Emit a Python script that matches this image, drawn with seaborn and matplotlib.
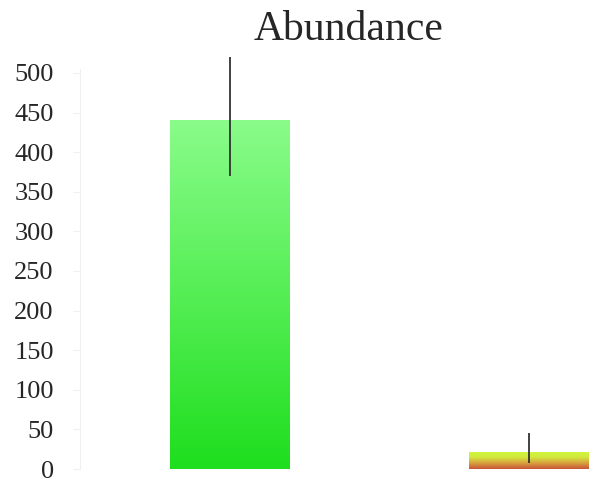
import numpy as np
import pandas as pd
import matplotlib
matplotlib.use("Agg")
import matplotlib.pyplot as plt
import seaborn as sns
from matplotlib.colors import LinearSegmentedColormap

categories = ["Group 1", "Group 2"]
values = [441, 22]
err_low = [71, 15]
err_high = [79, 23]
yticks = [0, 50, 100, 150, 200, 250, 300, 350, 400, 450, 500]
bar_gradients = [
    ["#1ede1e", "#55ee55", "#8afc8a"],
    ["#c85438", "#d8a03e", "#d2ea3e", "#cdf83c"],
]

sns.set_style("white")
plt.rcParams["font.family"] = ["Liberation Serif", "DejaVu Serif"]

df = pd.DataFrame({"cat": categories, "val": values})
fig = plt.figure(figsize=(5.89, 4.78), dpi=100)
ax = fig.add_axes([0.136, 0.0188, 0.864, 0.837])
sns.barplot(data=df, x="cat", y="val", ax=ax, width=0.4, errorbar=None,
            order=categories, color="white")

xlim = (-0.5, 1.2)
ylim = (0, 505)
for i, p in enumerate(ax.patches):
    x0, y0 = p.get_x(), p.get_y()
    w, h = p.get_width(), p.get_height()
    cmap = LinearSegmentedColormap.from_list("g", bar_gradients[i])
    grad = np.linspace(0, 1, 256).reshape(-1, 1)
    im = ax.imshow(grad, extent=[x0, x0 + w, y0, y0 + h], origin="lower",
                   aspect="auto", cmap=cmap, zorder=2)
    im.set_clip_path(p)
    p.set_facecolor("none")
    p.set_edgecolor("none")
    xc = x0 + w / 2
    eb = ax.errorbar([xc], [values[i]], yerr=[[err_low[i]], [err_high[i]]],
                     fmt="none", ecolor="#333333", elinewidth=1.3, capsize=0, zorder=3)
    for ln in eb.lines[2]:
        ln.set_clip_on(False)

ax.set_xlim(*xlim)
ax.set_ylim(*ylim)
ax.set_yticks(yticks)
ax.set_yticklabels([str(t) for t in yticks], fontsize=19)
ax.set_xticks([])
ax.set_xlabel("")
ax.set_ylabel("")
for s in ["top", "right", "bottom"]:
    ax.spines[s].set_visible(False)
ax.spines["left"].set_color("#f0f0f0")
ax.tick_params(axis="y", length=5, color="#f0f0f0", pad=14, left=True)
fig.text(0.591, 0.937, "Abundance", ha="center", va="center", fontsize=30)
fig.savefig("out.png", dpi=100)
